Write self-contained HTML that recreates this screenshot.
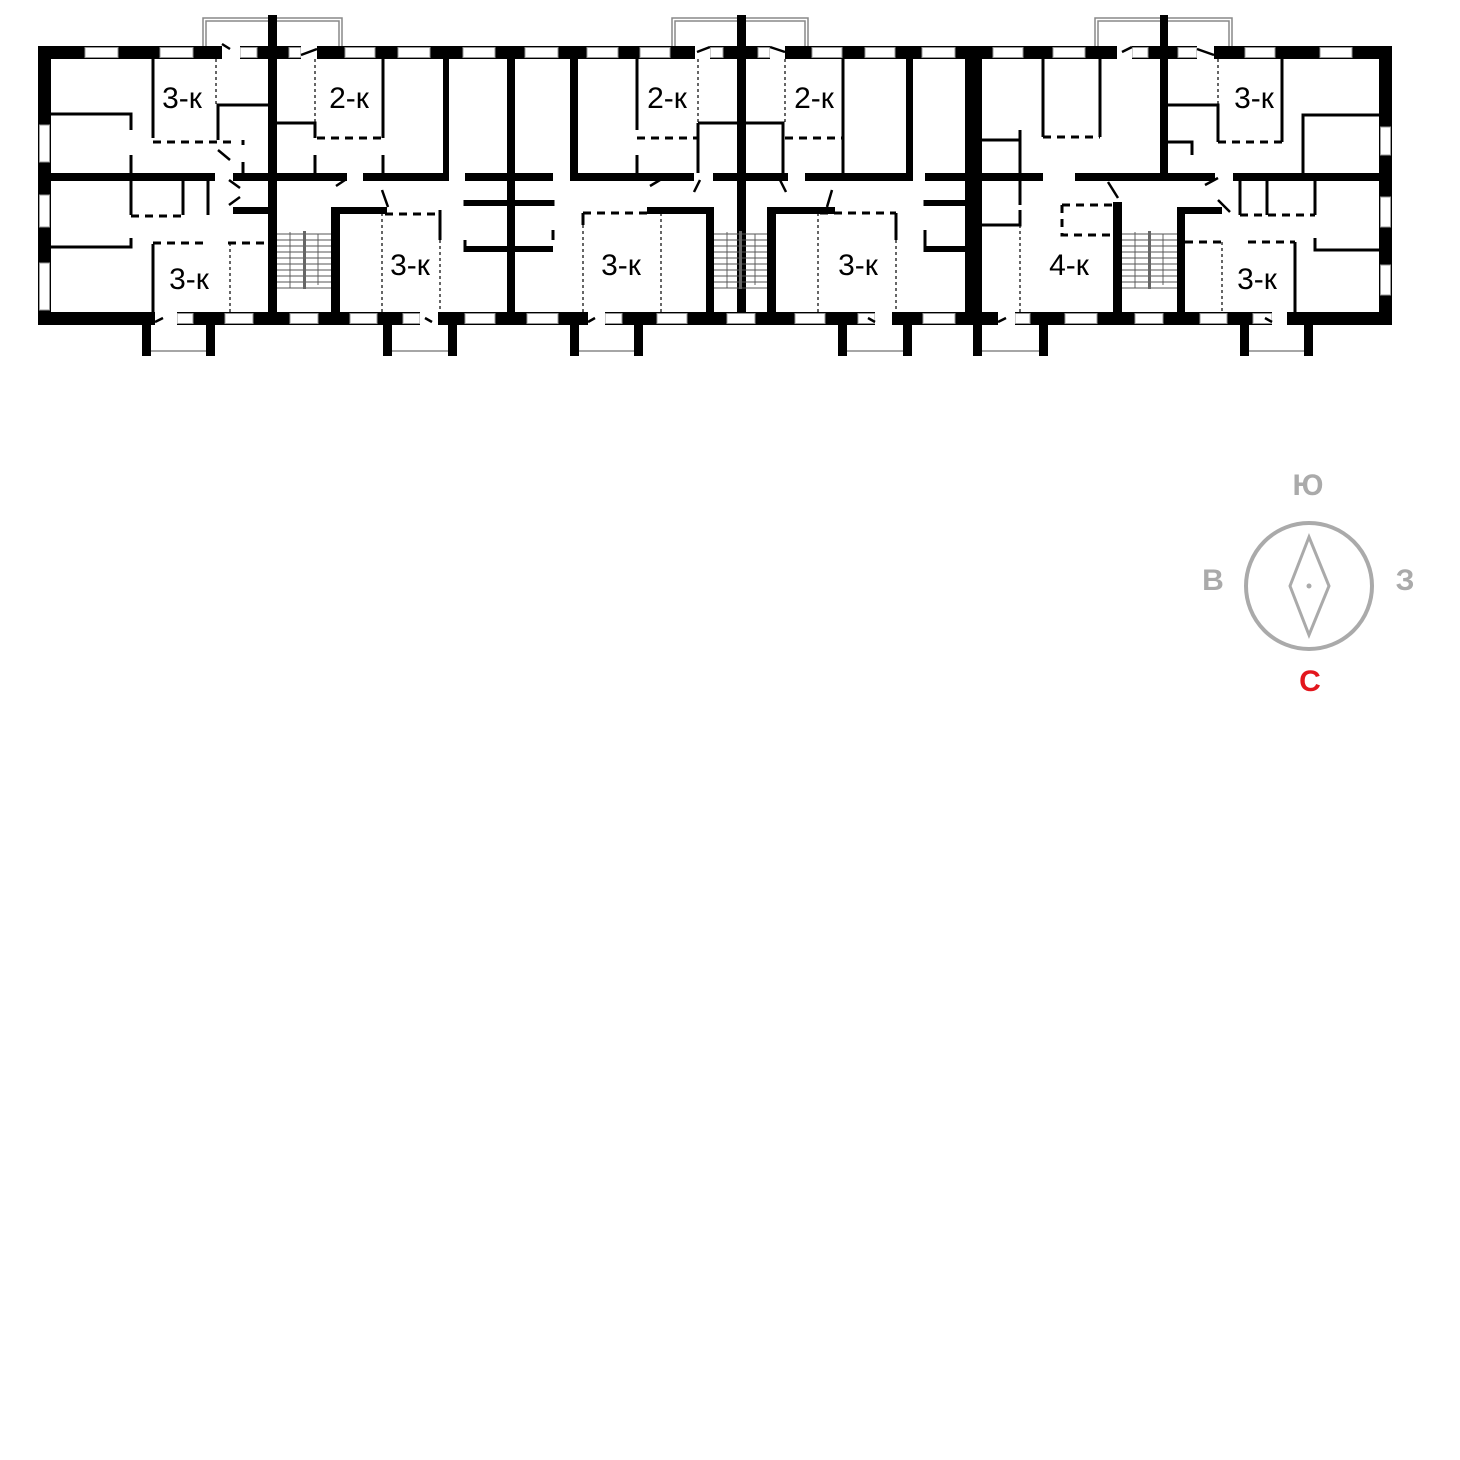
<!DOCTYPE html>
<html><head><meta charset="utf-8"><style>
html,body{margin:0;padding:0;background:#fff}
svg{display:block}
text{font-family:"Liberation Sans","DejaVu Sans",sans-serif}
</style></head><body>
<svg width="1460" height="1460" viewBox="0 0 1460 1460" xmlns="http://www.w3.org/2000/svg">
<g fill="none" stroke="#888" stroke-width="1.5">
<rect x="203" y="18" width="139" height="30"/><rect x="206" y="21" width="133" height="27"/>
<rect x="672" y="18" width="136" height="30"/><rect x="675" y="21" width="130" height="27"/>
<rect x="1095" y="18" width="137" height="30"/><rect x="1098" y="21" width="131" height="27"/>
</g>
<g fill="#000">
<rect x="142" y="320" width="9" height="36"/><rect x="206" y="320" width="9" height="36"/>
<rect x="383" y="320" width="9" height="36"/><rect x="448" y="320" width="9" height="36"/>
<rect x="570" y="320" width="9" height="36"/><rect x="634" y="320" width="9" height="36"/>
<rect x="838" y="320" width="9" height="36"/><rect x="903" y="320" width="9" height="36"/>
<rect x="973" y="320" width="9" height="36"/><rect x="1039" y="320" width="9" height="36"/>
<rect x="1240" y="320" width="9" height="36"/><rect x="1304" y="320" width="9" height="36"/>
</g>
<g stroke="#888" stroke-width="1.5">
<line x1="151" y1="351" x2="206" y2="351"/><line x1="392" y1="351" x2="448" y2="351"/>
<line x1="579" y1="351" x2="634" y2="351"/><line x1="847" y1="351" x2="903" y2="351"/>
<line x1="982" y1="351" x2="1039" y2="351"/><line x1="1249" y1="351" x2="1304" y2="351"/>
</g>
<g fill="#000">
<rect x="38" y="46" width="1354" height="13"/>
<rect x="38" y="312" width="1354" height="13"/>
<rect x="38" y="46" width="13" height="279"/>
<rect x="1379" y="46" width="13" height="279"/>
<rect x="268" y="15" width="9" height="297"/>
<rect x="737" y="15" width="9" height="297"/>
<rect x="1160" y="15" width="8" height="166"/>
<rect x="507" y="55" width="8" height="260"/>
<rect x="965" y="46" width="17" height="270"/>
<rect x="443" y="55" width="6" height="126"/>
<rect x="570" y="55" width="8" height="126"/>
<rect x="906" y="55" width="7" height="126"/>
<rect x="50" y="173" width="165" height="8"/>
<rect x="233" y="173" width="44" height="8"/>
<rect x="277" y="173" width="70" height="8"/>
<rect x="363" y="173" width="85" height="8"/>
<rect x="465" y="173" width="88" height="8"/>
<rect x="570" y="173" width="124" height="8"/>
<rect x="713" y="173" width="75" height="8"/>
<rect x="805" y="173" width="108" height="8"/>
<rect x="925" y="173" width="57" height="8"/>
<rect x="982" y="173" width="61" height="8"/>
<rect x="1075" y="173" width="140" height="8"/>
<rect x="1233" y="173" width="147" height="8"/>
<rect x="268" y="208" width="9" height="104"/><rect x="331" y="208" width="9" height="104"/>
<rect x="233" y="207" width="44" height="7"/><rect x="331" y="207" width="56" height="7"/>
<rect x="706" y="208" width="8" height="104"/><rect x="767" y="208" width="9" height="104"/>
<rect x="647" y="207" width="67" height="7"/><rect x="767" y="207" width="68" height="7"/>
<rect x="1113" y="202" width="9" height="110"/><rect x="1177" y="208" width="8" height="104"/>
<rect x="1177" y="207" width="45" height="7"/>
<rect x="465" y="200" width="88" height="6"/><rect x="465" y="246" width="42" height="6"/>
<rect x="515" y="246" width="38" height="6"/>
<rect x="925" y="200" width="40" height="6"/><rect x="925" y="246" width="40" height="6"/>
</g>
<g fill="#fff" stroke="#999" stroke-width="1">
<rect x="85" y="47.5" width="33" height="10"/><rect x="160" y="47.5" width="33" height="10"/>
<rect x="240" y="47.5" width="17" height="10"/><rect x="289" y="47.5" width="12" height="10"/>
<rect x="345" y="47.5" width="30" height="10"/><rect x="398" y="47.5" width="32" height="10"/>
<rect x="463" y="47.5" width="32" height="10"/>
<rect x="525" y="47.5" width="33" height="10"/><rect x="587" y="47.5" width="31" height="10"/>
<rect x="640" y="47.5" width="30" height="10"/><rect x="710" y="47.5" width="13" height="10"/>
<rect x="758" y="47.5" width="12" height="10"/><rect x="812" y="47.5" width="30" height="10"/>
<rect x="865" y="47.5" width="30" height="10"/><rect x="922" y="47.5" width="33" height="10"/>
<rect x="993" y="47.5" width="30" height="10"/><rect x="1053" y="47.5" width="32" height="10"/>
<rect x="1132" y="47.5" width="16" height="10"/><rect x="1178" y="47.5" width="19" height="10"/>
<rect x="1245" y="47.5" width="30" height="10"/><rect x="1320" y="47.5" width="32" height="10"/>
<rect x="177" y="313.5" width="16" height="10"/><rect x="225" y="313.5" width="28" height="10"/>
<rect x="290" y="313.5" width="28" height="10"/><rect x="350" y="313.5" width="27" height="10"/>
<rect x="403" y="313.5" width="17" height="10"/><rect x="465" y="313.5" width="30" height="10"/>
<rect x="527" y="313.5" width="31" height="10"/><rect x="605" y="313.5" width="17" height="10"/>
<rect x="657" y="313.5" width="30" height="10"/><rect x="727" y="313.5" width="28" height="10"/>
<rect x="795" y="313.5" width="30" height="10"/><rect x="858" y="313.5" width="17" height="10"/>
<rect x="923" y="313.5" width="32" height="10"/>
<rect x="1015" y="313.5" width="15" height="10"/><rect x="1065" y="313.5" width="32" height="10"/>
<rect x="1135" y="313.5" width="28" height="10"/><rect x="1200" y="313.5" width="27" height="10"/>
<rect x="1253" y="313.5" width="19" height="10"/>
<rect x="39.5" y="125" width="10" height="37"/><rect x="39.5" y="195" width="10" height="32"/><rect x="39.5" y="263" width="10" height="47"/>
<rect x="1380.5" y="127" width="10" height="28"/><rect x="1380.5" y="197" width="10" height="30"/><rect x="1380.5" y="265" width="10" height="30"/>
</g>
<g fill="#fff">
<rect x="155" y="311" width="22" height="15"/><rect x="420" y="311" width="18" height="15"/>
<rect x="588" y="311" width="17" height="15"/><rect x="875" y="311" width="17" height="15"/>
<rect x="998" y="311" width="17" height="15"/><rect x="1272" y="311" width="15" height="15"/>
<rect x="222" y="45" width="18" height="15"/><rect x="301" y="45" width="16" height="15"/>
<rect x="695" y="45" width="15" height="15"/><rect x="770" y="45" width="15" height="15"/>
<rect x="1117" y="45" width="15" height="15"/><rect x="1197" y="45" width="17" height="15"/>
</g>
<g stroke="#000" stroke-width="3" fill="none">
<path d="M51 114H131V130M131 155V173"/>
<path d="M153 59V138"/>
<path d="M218 140V105H268"/>
<path d="M243 140V145M243 162V173"/>
<path d="M131 181V215M183 181V215M208 181V215M131 238V247H51"/>
<path d="M153 244V312"/>
<path d="M383 59V138M277 123H315V138M315 155V173M383 155V173"/>
<path d="M465 200V206M465 240V252M553 200V206M553 230V240"/>
<path d="M637 59V130M698 123H737M698 123V173M637 155V173"/>
<path d="M843 59V173M745 123H783V173"/>
<path d="M925 200V206M925 230V252"/>
<path d="M1020 130V173M982 140H1020M1020 181V205M1020 210V225H982"/>
<path d="M1043 59V137M1100 59V137"/>
<path d="M1168 105H1218V142M1282 59V142M1303 173V115H1379M1168 142H1192V155"/>
<path d="M1240 181V215M1267 181V215M1315 181V215"/>
<path d="M1315 238V250H1379"/>
<path d="M1295 242V312M440 210V240M896 213V240M583 213V225"/>
</g>
<g stroke="#000" stroke-width="3" fill="none" stroke-dasharray="8,6">
<path d="M153 142H235M317 138H383M637 138H698M785 138H843M1043 137H1100M1218 142H1282"/>
<path d="M131 216H185M153 243H205M228 243H268M385 214H440M583 213H650M820 213H896"/>
<path d="M1062 205H1113M1062 205V235H1113M1185 242H1225M1248 242H1295M1240 215H1315"/>
</g>
<g stroke="#000" stroke-width="1.2" fill="none" stroke-dasharray="3,3">
<path d="M216 59V105M315 59V123M230 243V312M382 213V312M583 225V312M661 213V312M698 59V123M785 59V123M818 213V312M1020 225V312M1222 242V312M1218 59V105M440 240V312M896 240V312"/>
</g>
<g stroke="#555" stroke-width="0.9">
<path d="M277 234H331M277 240H331M277 246H331M277 252H331M277 258H331M277 264H331M277 270H331M277 276H331M277 282H331M277 288H331"/>
<path d="M714 234H767M714 240H767M714 246H767M714 252H767M714 258H767M714 264H767M714 270H767M714 276H767M714 282H767M714 288H767"/>
<path d="M1122 234H1177M1122 240H1177M1122 246H1177M1122 252H1177M1122 258H1177M1122 264H1177M1122 270H1177M1122 276H1177M1122 282H1177M1122 288H1177"/>
<path d="M290 232V288M318 234V285M727 232V288M755 234V285M1135 232V288M1163 234V285"/>
</g>
<g fill="#666"><rect x="303" y="231" width="3" height="58"/><rect x="739" y="231" width="3" height="58"/><rect x="1148" y="231" width="3" height="58"/></g>
<g stroke="#000" stroke-width="2.5" fill="none">
<path d="M218 150L230 160M229 180L240 188M229 205L240 197M336 186L345 180M382 190L388 207M650 186L660 180M700 180L694 192M780 180L786 192M832 190L827 207M1108 182L1118 198M1205 185L1218 178M1218 200L1230 212M163 318L155 322M425 318L432 322M595 318L588 322M868 318L875 322M1006 318L998 322M1265 318L1272 322M230 49L222 44M317 49L301 55M697 52L710 47M785 52L770 47M1122 52L1132 47M1214 55L1197 49"/>
</g>
<g font-size="30" fill="#000" text-anchor="middle">
<text x="182" y="108">3-к</text><text x="349" y="108">2-к</text>
<text x="667" y="108">2-к</text><text x="814" y="108">2-к</text>
<text x="1254" y="108">3-к</text>
<text x="189" y="289">3-к</text><text x="410" y="275">3-к</text>
<text x="621" y="275">3-к</text><text x="858" y="275">3-к</text>
<text x="1069" y="275">4-к</text><text x="1257" y="289">3-к</text>
</g>
<circle cx="1309" cy="586" r="63" fill="none" stroke="#aaa" stroke-width="4"/>
<polygon points="1309,537 1329,586 1309,635 1290,586" fill="none" stroke="#aaa" stroke-width="3"/>
<circle cx="1309" cy="586" r="2.5" fill="#aaa"/>
<g font-size="30" font-weight="bold" text-anchor="middle">
<text x="1308" y="495" fill="#aaa">Ю</text>
<text x="1213" y="590" fill="#aaa">В</text>
<text x="1405" y="590" fill="#aaa">З</text>
<text x="1310" y="691" fill="#e3161d">С</text>
</g>
</svg>
</body></html>
